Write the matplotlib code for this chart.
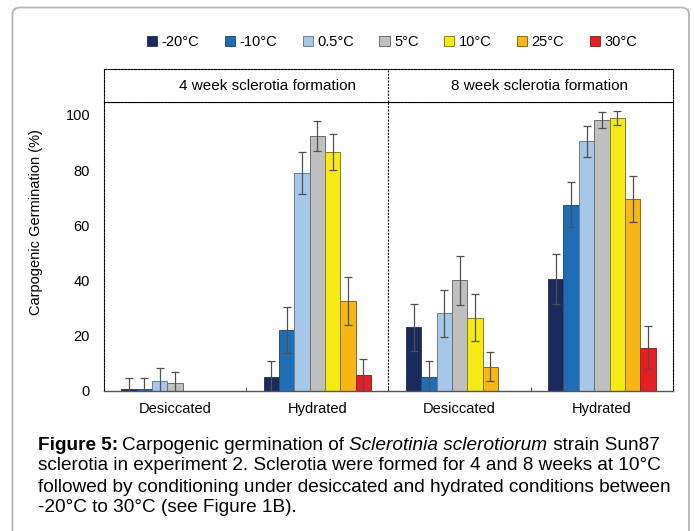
import numpy as np
import matplotlib.pyplot as plt
from matplotlib.patches import FancyBboxPatch

plt.rcParams['font.family'] = ['Liberation Sans', 'DejaVu Sans']

# Data (% carpogenic germination, mean and error)
groups = ['Desiccated', 'Hydrated', 'Desiccated', 'Hydrated']
temps = ['-20°C', '-10°C', '0.5°C', '5°C', '10°C', '25°C', '30°C']
colors = ['#1b2a5c', '#1f6db5', '#a7c7e7', '#bfbfbf', '#f5ea14', '#f8b718', '#e51e25']
edges = ['#333a55', '#2a4f7a', '#6f7f8f', '#6f6f6f', '#8a7f20', '#8a6a20', '#8a2a2a']

# rows = temperature, columns = group (4wk desic, 4wk hyd, 8wk desic, 8wk hyd)
means = [
    [0.7, 5.0, 23.0, 40.5],
    [0.7, 22.0, 5.0, 67.4],
    [3.4, 79.0, 28.0, 90.4],
    [2.7, 92.4, 40.0, 98.2],
    [0.0, 86.6, 26.5, 98.9],
    [0.0, 32.4, 8.7, 69.6],
    [0.0, 5.8, 0.0, 15.6],
]
errs = [
    [4.0, 5.7, 8.5, 9.0],
    [4.0, 8.5, 5.7, 8.2],
    [5.0, 7.7, 8.5, 5.5],
    [4.2, 5.3, 9.0, 2.9],
    [0.0, 6.4, 8.5, 2.4],
    [0.0, 8.7, 5.3, 8.4],
    [0.0, 5.8, 0.0, 7.8],
]

W, H = 694, 531
fig = plt.figure(figsize=(6.94, 5.31), dpi=100)

# outer rounded frame
frame = FancyBboxPatch((12.5 / W, -10 / H), (689 - 12.5) / W, (531 - 7.5 + 10) / H,
                       boxstyle='round,pad=0,rounding_size=0.012',
                       transform=fig.transFigure, fill=False,
                       edgecolor='#b5b5b5', linewidth=1.3)
fig.patches.append(frame)

dash = (0, (1.8, 1.2))

ax = fig.add_axes([104 / W, 1 - 390.7 / H, (673 - 104) / W, (390.7 - 102) / H])
x = np.arange(len(groups))
bw = 0.108
for i, t in enumerate(temps):
    m = np.array(means[i])
    e = np.array(errs[i])
    pos = x + (i - 3) * bw
    ax.bar(pos, m, width=bw, color=colors[i], edgecolor=edges[i], linewidth=0.7,
           label=t, zorder=2)
    ok = e > 0
    ax.errorbar(pos[ok], m[ok], yerr=e[ok], fmt='none', ecolor='#505050',
                elinewidth=0.9, capsize=3, capthick=0.9, zorder=3)

ax.set_xlim(-0.5, 3.5)
ax.set_ylim(0, 104.7)
ax.set_yticks([0, 20, 40, 60, 80, 100])
ax.set_xticks(x)
ax.set_xticklabels(groups, fontsize=10.5)
ax.tick_params(axis='y', length=0, labelsize=10.5, pad=10)
ax.tick_params(axis='x', length=0, pad=8)
ax.set_xticks([0.5, 1.5, 2.5], minor=True)
ax.tick_params(axis='x', which='minor', direction='in', length=3, color='#333333')
ax.set_ylabel('Carpogenic Germination (%)', fontsize=10.5)
ax.yaxis.set_label_coords(-0.108, 0.584)
for s in ['left', 'top', 'right']:
    ax.spines[s].set_linestyle(dash)
    ax.spines[s].set_linewidth(0.8)
ax.spines['bottom'].set_color('#555555')
ax.spines['bottom'].set_linewidth(1.0)
ax.axvline(1.5, color='black', linestyle=dash, linewidth=0.8, zorder=1)

# panel header
hx = fig.add_axes([104 / W, 1 - 102 / H, (673 - 104) / W, 33 / H])
hx.set_xlim(-0.5, 3.5)
hx.set_ylim(0, 1)
hx.set_xticks([])
hx.set_yticks([])
for s in hx.spines.values():
    s.set_linestyle(dash)
    s.set_linewidth(0.8)
hx.axvline(1.5, color='black', linestyle=dash, linewidth=0.8)
hx.text(0.65, 0.5, '4 week sclerotia formation', ha='center', va='center', fontsize=11)
hx.text(2.56, 0.5, '8 week sclerotia formation', ha='center', va='center', fontsize=11)

# legend
handles, labels = ax.get_legend_handles_labels()
fig.legend(handles, labels, loc='center', bbox_to_anchor=(392 / W, 1 - 42 / H),
           ncol=7, frameon=False, fontsize=10.5, handlelength=0.7,
           handleheight=0.7, handletextpad=0.3, columnspacing=1.75)

# caption
fs = 13.7
cap_x = 38 / W
y0 = 1 - 445 / H
lines = [
    'sclerotia in experiment 2. Sclerotia were formed for 4 and 8 weeks at 10°C',
    'followed by conditioning under desiccated and hydrated conditions between',
    '-20°C to 30°C (see Figure 1B).',
]
t1 = fig.text(cap_x, y0, 'Figure 5:', fontsize=fs, va='center', fontweight='bold')
fig.canvas.draw()
x1 = t1.get_window_extent().x1 / W + 4 / W
t2 = fig.text(x1, y0, 'Carpogenic germination of ', fontsize=fs, va='center')
fig.canvas.draw()
x2 = t2.get_window_extent().x1 / W
t3 = fig.text(x2, y0, 'Sclerotinia sclerotiorum', fontsize=fs, va='center',
              style='italic')
fig.canvas.draw()
x3 = t3.get_window_extent().x1 / W
fig.text(x3, y0, ' strain Sun87', fontsize=fs, va='center')
for k, ln in enumerate(lines, start=1):
    fig.text(cap_x, 1 - (445 + 21 * k) / H, ln, fontsize=fs, va='center')

fig.savefig('out.png', dpi=100)
